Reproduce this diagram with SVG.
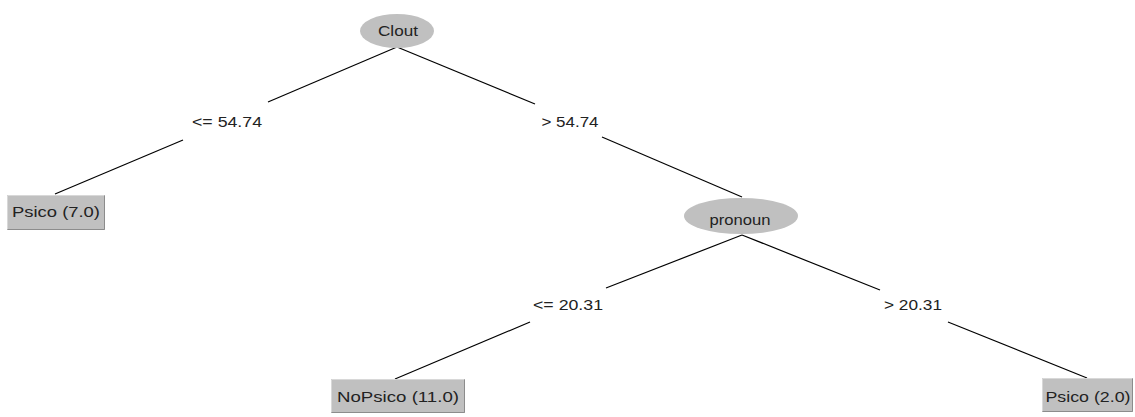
<svg xmlns="http://www.w3.org/2000/svg" width="1135" height="417" viewBox="0 0 1135 417">
<style>
.bg{fill:#ffffff}
.ell{fill:#c0c0c0;stroke:none}
.box{fill:#c0c0c0;stroke:none}
.hi{stroke:#d8d8d8;stroke-width:1;fill:none}
.sh{stroke:#8c8c8c;stroke-width:1;fill:none}
.t{font-family:"Liberation Sans",Arial,sans-serif;font-size:14px;fill:#222;text-anchor:middle}
.edge{stroke:#000;stroke-width:1.2;fill:none}
</style>
<rect class="bg" x="0" y="0" width="1135" height="417"/>
<g id="connectors">
<line class="edge" x1="397" y1="47" x2="268" y2="102"/>
<line class="edge" x1="183" y1="140" x2="55" y2="194"/>
<line class="edge" x1="397" y1="47" x2="535" y2="104"/>
<line class="edge" x1="602" y1="137" x2="742" y2="197"/>
<line class="edge" x1="742" y1="235" x2="606" y2="288"/>
<line class="edge" x1="530" y1="322" x2="395" y2="379"/>
<line class="edge" x1="742" y1="235" x2="880" y2="290"/>
<line class="edge" x1="948" y1="322" x2="1087" y2="378"/>
<text class="t" x="227" y="127" textLength="70" lengthAdjust="spacingAndGlyphs">&lt;= 54.74</text>
<text class="t" x="570" y="127" textLength="57" lengthAdjust="spacingAndGlyphs">&gt; 54.74</text>
<text class="t" x="568" y="310" textLength="70" lengthAdjust="spacingAndGlyphs">&lt;= 20.31</text>
<text class="t" x="913" y="310" textLength="58" lengthAdjust="spacingAndGlyphs">&gt; 20.31</text>
</g>
<g id="node-clout">
<ellipse class="ell" cx="397" cy="31" rx="37" ry="17"/>
<text class="t" x="398" y="36" textLength="40" lengthAdjust="spacingAndGlyphs">Clout</text>
</g>
<g id="node-pronoun">
<ellipse class="ell" cx="741" cy="216" rx="57" ry="18"/>
<text class="t" x="740" y="225" textLength="61" lengthAdjust="spacingAndGlyphs">pronoun</text>
</g>
<g id="leaf-psico7">
<rect class="box" x="7" y="195" width="98" height="35"/>
<path class="hi" d="M7.5,229.5 V195.5 H104.5"/>
<path class="sh" d="M104.5,195.5 V229.5 H7.5"/>
<text class="t" x="56" y="217" textLength="88" lengthAdjust="spacingAndGlyphs">Psico (7.0)</text>
</g>
<g id="leaf-nopsico11">
<rect class="box" x="331" y="379" width="134" height="34"/>
<path class="hi" d="M331.5,412.5 V379.5 H464.5"/>
<path class="sh" d="M464.5,379.5 V412.5 H331.5"/>
<text class="t" x="398" y="402" textLength="122" lengthAdjust="spacingAndGlyphs">NoPsico (11.0)</text>
</g>
<g id="leaf-psico2">
<rect class="box" x="1042" y="378" width="91" height="34"/>
<path class="hi" d="M1042.5,411.5 V378.5 H1132.5"/>
<path class="sh" d="M1132.5,378.5 V411.5 H1042.5"/>
<text class="t" x="1088" y="402" textLength="85" lengthAdjust="spacingAndGlyphs">Psico (2.0)</text>
</g>
</svg>
